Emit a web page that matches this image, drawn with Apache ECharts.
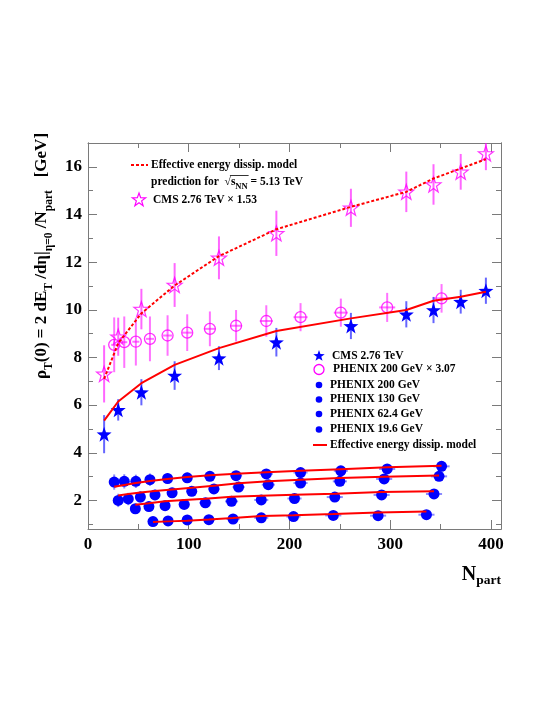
<!DOCTYPE html>
<html>
<head>
<meta charset="utf-8">
<script src="https://cdn.jsdelivr.net/npm/echarts@6/dist/echarts.min.js"></script>
<style>
  html, body { margin: 0; background: #fff; }
  #chart { width: 545px; height: 705px; }
</style>
</head>
<body>
<div id="chart"></div>
<script>
// CMS 2.76 TeV
const cmsNpart = [16, 30, 53, 86, 130, 187, 261, 316, 343, 370, 395]
const cmsRho = [4.78, 5.80, 6.54, 7.24, 7.97, 8.64, 9.32, 9.81, 9.99, 10.34, 10.80]
const cmsErr = [0.8, 0.45, 0.55, 0.6, 0.5, 0.6, 0.55, 0.55, 0.55, 0.5, 0.55]
const cmsModel = [5.35, 6.15, 6.92, 7.69, 8.39, 9.11, 9.64, 9.99, 10.38, 10.55, 10.76]
// CMS 2.76 TeV x 1.53 and 5.13 TeV prediction
const cmsScaledRho = [7.31, 8.87, 10.03, 11.04, 12.18, 13.21, 14.28, 14.95, 15.26, 15.79, 16.56]
const cmsScaledErr = [1.2, 0.8, 0.85, 0.92, 0.9, 0.95, 0.8, 0.85, 0.85, 0.75, 0.7]
const model513 = [7.1, 8.6, 9.85, 11.02, 12.25, 13.38, 14.32, 14.95, 15.51, 15.93, 16.32]

// PHENIX 200 GeV (and x 3.07)
const phx200Npart = [26, 36, 47.5, 61.5, 79, 98.5, 121, 147, 177, 211, 251, 297, 351]
const phx200Rho = [2.77, 2.80, 2.80, 2.87, 2.92, 2.95, 3.01, 3.04, 3.11, 3.17, 3.24, 3.32, 3.43]
const phx200Err = [0.32, 0.3, 0.28, 0.26, 0.23, 0.21, 0.19, 0.17, 0.16, 0.15, 0.15, 0.14, 0.13]
const phx200Xerr = [3, 3, 3.5, 4, 4.5, 5, 5.5, 6, 6.5, 7, 7, 8, 8]
const phx200Model = [2.57, 2.65, 2.73, 2.81, 2.90, 2.98, 3.06, 3.12, 3.18, 3.24, 3.31, 3.39, 3.45]
const phx200ScaledRho = [8.53, 8.64, 8.66, 8.78, 8.92, 9.04, 9.20, 9.33, 9.53, 9.69, 9.88, 10.10, 10.48]
const phx200ScaledErr = [1.15, 1.08, 1.0, 0.94, 0.85, 0.77, 0.73, 0.66, 0.66, 0.59, 0.59, 0.61, 0.6]

// PHENIX 130 GeV
const phx130Npart = [30, 40, 52, 66.5, 83.5, 103, 125, 149.5, 179, 211, 250, 294, 348.5]
const phx130Rho = [2.00, 2.06, 2.14, 2.23, 2.32, 2.38, 2.48, 2.56, 2.66, 2.73, 2.80, 2.90, 3.01]
const phx130Err = [0.28, 0.26, 0.24, 0.22, 0.2, 0.18, 0.17, 0.15, 0.14, 0.13, 0.13, 0.12, 0.12]
const phx130Xerr = [3, 3, 3.5, 4, 4.5, 5, 5.5, 6, 6.5, 7, 7, 8, 8]
const phx130Model = [2.21, 2.27, 2.33, 2.39, 2.46, 2.53, 2.62, 2.72, 2.80, 2.87, 2.94, 2.99, 3.05]

// PHENIX 62.4 GeV
const phx62Npart = [47, 60.5, 76.5, 95.5, 116.5, 142.5, 172, 205, 245, 291.5, 343.5]
const phx62Rho = [1.65, 1.74, 1.78, 1.83, 1.90, 1.96, 2.02, 2.08, 2.14, 2.23, 2.27]
const phx62Err = [0.2, 0.18, 0.16, 0.15, 0.14, 0.12, 0.11, 0.1, 0.1, 0.1, 0.1]
const phx62Xerr = [4, 4.5, 5, 5.5, 6, 6.5, 7, 7, 8, 8, 8]
const phx62Model = [1.82, 1.88, 1.96, 2.02, 2.07, 2.15, 2.20, 2.24, 2.28, 2.35, 2.38]

// PHENIX 19.6 GeV
const phx19Npart = [64.5, 79.5, 98.5, 120, 144, 172, 204, 243.5, 288, 336]
const phx19Rho = [1.11, 1.14, 1.18, 1.19, 1.22, 1.27, 1.32, 1.37, 1.36, 1.40]
const phx19Err = [0.1, 0.1, 0.09, 0.09, 0.08, 0.08, 0.08, 0.07, 0.07, 0.07]
const phx19Xerr = [4.5, 5, 5.5, 6, 6.5, 7, 7, 8, 8, 8]
const phx19Model = [1.09, 1.12, 1.15, 1.20, 1.26, 1.35, 1.38, 1.43, 1.49, 1.53]

const yLabelTicks = [2, 4, 6, 8, 10, 12, 14, 16]
const yMinorTicks = [1, 3, 5, 7, 9, 11, 13, 15]

const FONT = '"Liberation Serif", "Times New Roman", serif'
const LEG_FONT = 11.5
const STAR = 'path://M0,-10L2.35,-3.24L9.51,-3.09L3.8,1.24L5.88,8.09L0,4L-5.88,8.09L-3.8,1.24L-9.51,-3.09L-2.35,-3.24Z'
const AXIS_GRAY = '#7a7a7a'

const pairs = (xs, ys) => xs.map((x, i) => [x, ys[i]])

function errorBars(xs, ys, yerr, xerr, color, z) {
  return {
    type: 'custom',
    z: z,
    silent: true,
    clip: true,
    encode: { x: 0, y: 1 },
    data: xs.map((x, i) => {
      const dx = xerr ? xerr[i] : 0
      return [x, ys[i], ys[i] - yerr[i], ys[i] + yerr[i], x - dx, x + dx]
    }),
    renderItem: (params, api) => {
      const lo = api.coord([api.value(0), api.value(2)])
      const hi = api.coord([api.value(0), api.value(3)])
      const l = api.coord([api.value(4), api.value(1)])
      const r = api.coord([api.value(5), api.value(1)])
      const style = { stroke: color, lineWidth: 2 }
      return {
        type: 'group',
        children: [
          { type: 'line', shape: { x1: lo[0], y1: lo[1], x2: hi[0], y2: hi[1] }, style: style },
          { type: 'line', shape: { x1: l[0], y1: l[1], x2: r[0], y2: r[1] }, style: style }
        ]
      }
    }
  }
}

function dots(xs, ys, opts) {
  return Object.assign({
    type: 'scatter',
    z: 5,
    data: pairs(xs, ys),
    symbol: 'circle',
    symbolSize: 11,
    itemStyle: { color: '#0000ff', opacity: 1 }
  }, opts)
}

function modelLine(xs, ys, dashed) {
  return {
    type: 'line',
    z: 6,
    data: pairs(xs, ys),
    showSymbol: false,
    symbol: 'none',
    silent: true,
    lineStyle: { color: '#ff0000', width: 2, type: dashed ? [3, 2] : 'solid' }
  }
}

function starPoints(cx, cy, r) {
  const pts = []
  for (let k = 0; k < 10; k++) {
    const a = -Math.PI / 2 + k * Math.PI / 5
    const rr = k % 2 ? r * 0.4 : r
    pts.push([cx + rr * Math.cos(a), cy + rr * Math.sin(a)])
  }
  return pts
}

// measure text so the sqrt overline lands on the right glyphs
const measureCtx = document.createElement('canvas').getContext('2d')
function textWidth(str, size) {
  measureCtx.font = 'bold ' + size + 'px ' + FONT
  return measureCtx.measureText(str).width
}
const sqrtStart = 151 + textWidth('prediction for  ', LEG_FONT)
const sqrtBarX1 = sqrtStart + textWidth('√', LEG_FONT) * 0.85
const sqrtBarX2 = sqrtStart + textWidth('√s', LEG_FONT) + textWidth('NN', 8.5) + 1

const legendText = (x, y, text, extra) => ({
  type: 'text', x: x, y: y, z: 20,
  style: Object.assign({
    text: text, fill: '#000', font: 'bold ' + LEG_FONT + 'px ' + FONT,
    align: 'left', verticalAlign: 'middle'
  }, extra || {})
})

const xAxisBase = {
  type: 'value', min: 0, max: 410, interval: 100,
  splitLine: { show: false },
  axisLine: { show: true, lineStyle: { color: AXIS_GRAY, width: 1 } },
  axisTick: { show: true, inside: true, length: 9, lineStyle: { color: AXIS_GRAY } },
  minorTick: { show: true, splitNumber: 2, length: 5, lineStyle: { color: AXIS_GRAY } },
  minorSplitLine: { show: false }
}

const yAxisBase = {
  type: 'value', min: 0.8, max: 17,
  splitLine: { show: false },
  axisLine: { show: true, lineStyle: { color: AXIS_GRAY, width: 1 } }
}

const chart = echarts.init(document.getElementById('chart'), null, { renderer: 'canvas' })

chart.setOption({
  backgroundColor: '#ffffff',
  animation: false,
  grid: { left: 88, right: 44, top: 143, bottom: 176 },
  xAxis: [
    Object.assign({}, xAxisBase, {
      position: 'bottom',
      axisLabel: { show: true, color: '#000', fontFamily: FONT, fontWeight: 'bold', fontSize: 17, margin: 7 }
    }),
    Object.assign({}, xAxisBase, { position: 'top', axisLabel: { show: false } })
  ],
  yAxis: [
    Object.assign({}, yAxisBase, {
      position: 'left',
      axisTick: { show: true, inside: true, length: 9, customValues: yLabelTicks, lineStyle: { color: AXIS_GRAY } },
      axisLabel: { show: true, customValues: yLabelTicks, color: '#000', fontFamily: FONT, fontWeight: 'bold', fontSize: 17, margin: 6 }
    }),
    Object.assign({}, yAxisBase, {
      position: 'left',
      axisTick: { show: true, inside: true, length: 5, customValues: yMinorTicks, lineStyle: { color: AXIS_GRAY } },
      axisLabel: { show: false }
    }),
    Object.assign({}, yAxisBase, {
      position: 'right',
      axisTick: { show: true, inside: true, length: 9, customValues: yLabelTicks, lineStyle: { color: AXIS_GRAY } },
      axisLabel: { show: false }
    }),
    Object.assign({}, yAxisBase, {
      position: 'right',
      axisTick: { show: true, inside: true, length: 5, customValues: yMinorTicks, lineStyle: { color: AXIS_GRAY } },
      axisLabel: { show: false }
    })
  ],
  series: [
    // error bars
    errorBars(cmsNpart, cmsScaledRho, cmsScaledErr, null, 'rgba(255,0,255,0.6)', 2),
    errorBars(phx200Npart, phx200ScaledRho, phx200ScaledErr, phx200Xerr, 'rgba(255,0,255,0.55)', 2),
    errorBars(cmsNpart, cmsRho, cmsErr, null, 'rgba(0,0,255,0.6)', 2),
    errorBars(phx200Npart, phx200Rho, phx200Err, phx200Xerr, 'rgba(0,0,255,0.45)', 2),
    errorBars(phx130Npart, phx130Rho, phx130Err, phx130Xerr, 'rgba(0,0,255,0.45)', 2),
    errorBars(phx62Npart, phx62Rho, phx62Err, phx62Xerr, 'rgba(0,0,255,0.45)', 2),
    errorBars(phx19Npart, phx19Rho, phx19Err, phx19Xerr, 'rgba(0,0,255,0.45)', 2),
    // markers
    dots(cmsNpart, cmsScaledRho, {
      symbol: STAR, symbolSize: 15,
      itemStyle: { color: 'rgba(255,255,255,0)', borderColor: '#ff00ff', borderWidth: 1.2 }
    }),
    dots(phx200Npart, phx200ScaledRho, {
      symbolSize: 11,
      itemStyle: { color: 'rgba(255,255,255,0)', borderColor: '#ff00ff', borderWidth: 1.3 }
    }),
    dots(cmsNpart, cmsRho, { symbol: STAR, symbolSize: 15 }),
    dots(phx200Npart, phx200Rho),
    dots(phx130Npart, phx130Rho),
    dots(phx62Npart, phx62Rho),
    dots(phx19Npart, phx19Rho),
    // model curves
    modelLine(cmsNpart, model513, true),
    modelLine(cmsNpart, cmsModel, false),
    modelLine(phx200Npart, phx200Model, false),
    modelLine(phx130Npart, phx130Model, false),
    modelLine(phx62Npart, phx62Model, false),
    modelLine(phx19Npart, phx19Model, false)
  ],
  graphic: [
    // y axis title
    {
      type: 'text', x: 42, y: 256, rotation: Math.PI / 2, z: 20,
      style: {
        text: '{m|ρ}{s|T}{m|(0) = 2 dE}{s|T}{m| /dη|}{s|η=0}{m| /N}{s|part}{m|   [GeV]}',
        align: 'center', verticalAlign: 'middle',
        rich: {
          m: { fontFamily: FONT, fontWeight: 'bold', fontSize: 17, lineHeight: 26, fill: '#000' },
          s: { fontFamily: FONT, fontWeight: 'bold', fontSize: 11.5, lineHeight: 13, verticalAlign: 'bottom', fill: '#000' }
        }
      }
    },
    // x axis title
    {
      type: 'text', x: 501, y: 575, z: 20,
      style: {
        text: '{m|N}{s|part}',
        align: 'right', verticalAlign: 'middle',
        rich: {
          m: { fontFamily: FONT, fontWeight: 'bold', fontSize: 20, lineHeight: 26, fill: '#000' },
          s: { fontFamily: FONT, fontWeight: 'bold', fontSize: 13.5, lineHeight: 14, verticalAlign: 'bottom', fill: '#000' }
        }
      }
    },
    // upper legend
    {
      type: 'line', z: 20,
      shape: { x1: 131, y1: 165, x2: 148, y2: 165 },
      style: { stroke: '#ff0000', lineWidth: 2, lineDash: [3, 2] }
    },
    legendText(151, 165, 'Effective energy dissip. model'),
    legendText(151, 182, '{m|prediction for  √s}{s|NN}{m| = 5.13 TeV}', {
      rich: {
        m: { fontFamily: FONT, fontWeight: 'bold', fontSize: LEG_FONT, lineHeight: 18, fill: '#000' },
        s: { fontFamily: FONT, fontWeight: 'bold', fontSize: 8.5, lineHeight: 10, verticalAlign: 'bottom', fill: '#000' }
      }
    }),
    {
      type: 'line', z: 20,
      shape: { x1: sqrtBarX1, y1: 175.5, x2: sqrtBarX2, y2: 175.5 },
      style: { stroke: '#000', lineWidth: 0.8 }
    },
    {
      type: 'polygon', z: 20,
      shape: { points: starPoints(139, 200, 7) },
      style: { fill: 'none', stroke: '#ff00ff', lineWidth: 1.2 }
    },
    legendText(153, 200, 'CMS 2.76 TeV × 1.53'),
    // lower legend
    {
      type: 'polygon', z: 20,
      shape: { points: starPoints(319, 356, 6) },
      style: { fill: '#0000ff' }
    },
    legendText(332, 356, 'CMS 2.76 TeV'),
    {
      type: 'circle', z: 20,
      shape: { cx: 319, cy: 369.5, r: 5 },
      style: { fill: 'none', stroke: '#ff00ff', lineWidth: 1.3 }
    },
    legendText(333, 369.5, 'PHENIX 200 GeV × 3.07'),
    { type: 'circle', z: 20, shape: { cx: 319, cy: 385, r: 3.3 }, style: { fill: '#0000ff' } },
    legendText(330, 385, 'PHENIX 200 GeV'),
    { type: 'circle', z: 20, shape: { cx: 319, cy: 399.5, r: 3.3 }, style: { fill: '#0000ff' } },
    legendText(330, 399.5, 'PHENIX 130 GeV'),
    { type: 'circle', z: 20, shape: { cx: 319, cy: 414, r: 3.3 }, style: { fill: '#0000ff' } },
    legendText(330, 414, 'PHENIX 62.4 GeV'),
    { type: 'circle', z: 20, shape: { cx: 319, cy: 429.5, r: 3.3 }, style: { fill: '#0000ff' } },
    legendText(330, 429.5, 'PHENIX 19.6 GeV'),
    {
      type: 'line', z: 20,
      shape: { x1: 313, y1: 445, x2: 327, y2: 445 },
      style: { stroke: '#ff0000', lineWidth: 2 }
    },
    legendText(330, 445, 'Effective energy dissip. model')
  ]
})
</script>
</body>
</html>
